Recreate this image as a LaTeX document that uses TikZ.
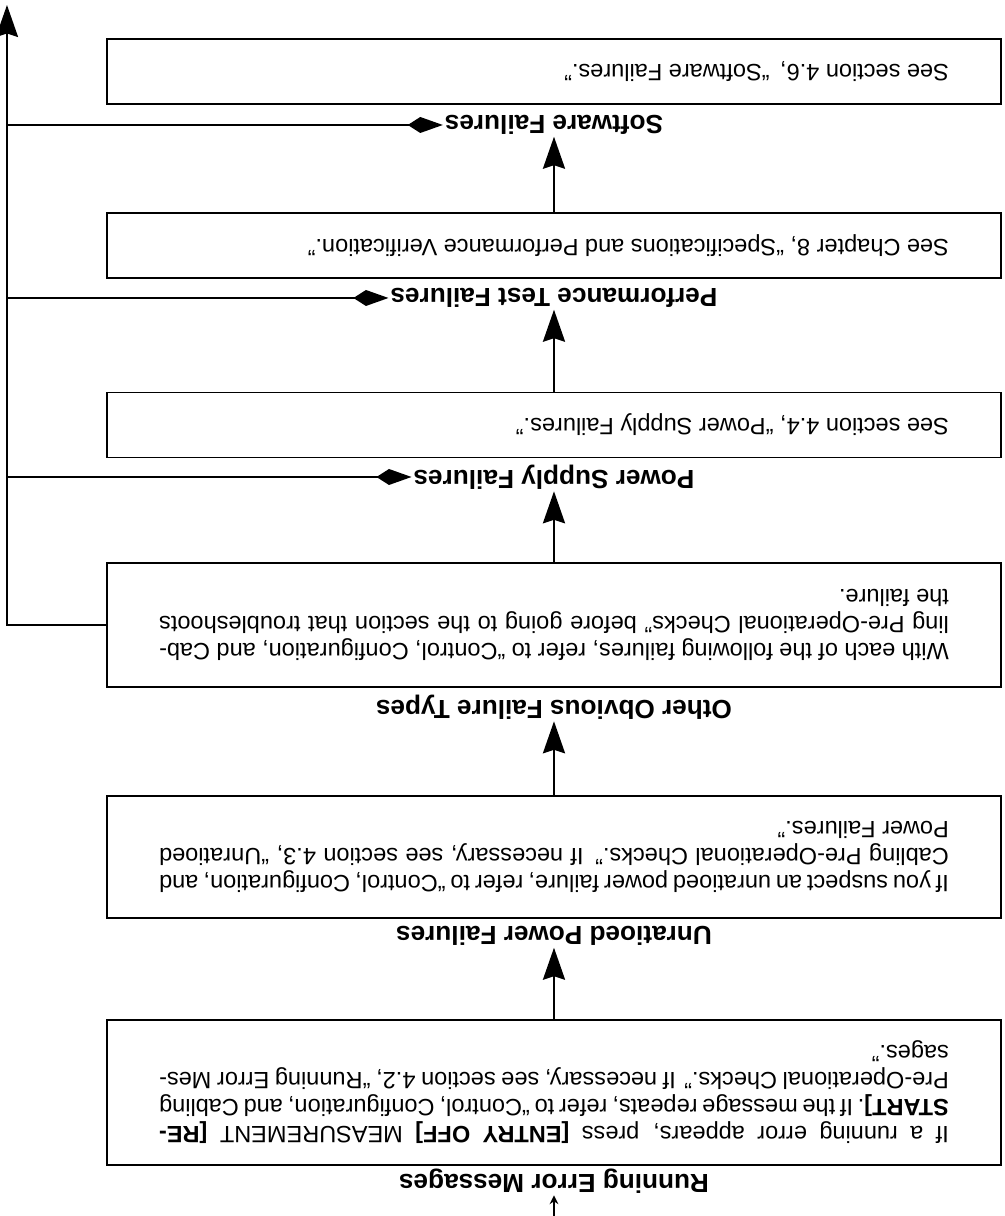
\documentclass[tikz,border=0pt]{standalone}
\usepackage{fontspec}
\setmainfont{Liberation Sans}
\usetikzlibrary{arrows.meta}

\tikzset{
		infobox/.style={draw, line width=1.1pt, text width=15.8cm, align=justify,
			inner xsep=1.04cm, inner ysep=0pt, font=\fontsize{13.4}{15.4}\selectfont},
		onebox/.style={infobox, minimum height=1.3cm},
		failhead/.style={inner sep=1pt, font=\fontsize{14.9}{17}\selectfont\bfseries},
		flowarrow/.style={line width=1.5pt, -{Stealth[length=0.64cm, width=0.44cm, inset=0.07cm]}},
		brancharrow/.style={line width=1.5pt, -{Kite[length=0.7cm, width=0.32cm, inset=0.25cm]}}
	}

\begin{document}
\begin{tikzpicture}[x=0.02cm, y=-0.02cm, rotate=180, transform shape]
	\useasboundingbox (0,0) rectangle (1004,1216);
	\clip (0,0) rectangle (1004,1216);
	% headings with their boxes, top to bottom
	\node[failhead] (runhead) at (450,35) {Running Error Messages};
	\node[infobox, minimum height=2.9cm] (runbox) at (450,123.5)
		{If a running error appears, press \textbf{[ENTRY OFF]} MEASUREMENT \textbf{[RE-}\linebreak
		\textbf{START]}. If the message repeats, refer to “Control, Configuration, and Cabling\linebreak
		Pre-Operational Checks.” If necessary, see section 4.2, “Running Error Mes-\linebreak
		sages.”};
	\node[failhead] (unrathead) at (450,280) {Unratioed Power Failures};
	\node[infobox, minimum height=2.44cm] (unratbox) at (450,359)
		{If you suspect an unratioed power failure, refer to “Control, Configuration, and\linebreak
		Cabling Pre-Operational Checks.” If necessary, see section 4.3, “Unratioed\linebreak
		Power Failures.”};
	\node[failhead] (otherhead) at (450,509) {Other Obvious Failure Types};
	\node[infobox, minimum height=2.48cm] (otherbox) at (450,591)
		{With each of the following failures, refer to “Control, Configuration, and Cab-\linebreak
		ling Pre-Operational Checks” before going to the section that troubleshoots\linebreak
		the failure.};
	\node[failhead] (psuhead) at (450,739) {Power Supply Failures};
	\node[onebox] (psubox) at (450,791) {See section 4.4, “Power Supply Failures.”};
	\node[failhead] (perfhead) at (450,918) {Performance Test Failures};
	\node[onebox] (perfbox) at (450,970.5) {See Chapter 8, “Specifications and Performance Verification.”};
	\node[failhead] (swhead) at (450,1091) {Software Failures};
	\node[onebox] (swbox) at (450,1144.5) {See section 4.6,\, “Software Failures.”};
	% flow down the page
	\coordinate (entry) at (450,0);
	\coordinate (exit) at (997,1211);
	\draw[line width=1.5pt, -{Stealth[length=5pt, width=5pt]}] (entry) -- (runhead.north);
	\draw[flowarrow] (runbox.south) -- (unrathead.north);
	\draw[flowarrow] (unratbox.south) -- (otherhead.north);
	\draw[flowarrow] (otherbox.south) -- (psuhead.north);
	\draw[flowarrow] (psubox.south) -- (perfhead.north);
	\draw[flowarrow] (perfbox.south) -- (swhead.north);
	% side line with the branches
	\draw[flowarrow] (otherbox.east) -| (exit);
	\foreach \head in {psuhead, perfhead, swhead}
		\draw[brancharrow] (\head.east -| exit) -- (\head.east);
\end{tikzpicture}
\end{document}
